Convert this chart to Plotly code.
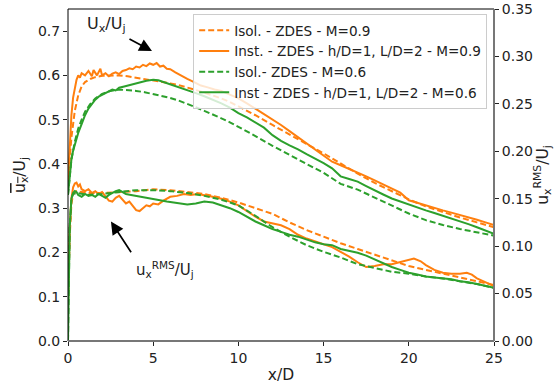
import plotly.graph_objects as go

ORANGE = "#ff7f0e"
GREEN = "#2ca02c"

# ---- mean axial velocity, u_x / U_j (left axis) ----
isol09_mean_x = [0, 0.2, 0.4, 0.6, 0.8, 1.0, 1.3, 1.6, 2, 2.5, 3, 3.5, 4, 4.5, 5, 5.5, 6, 6.5, 7, 7.5, 8,
                 8.5, 9, 9.5, 10, 11, 12, 13, 14, 15, 16, 17, 18, 19, 20, 21, 22, 23, 24, 25]
isol09_mean_y = [0.36, 0.46, 0.52, 0.555, 0.575, 0.585, 0.592, 0.596, 0.599, 0.60, 0.60, 0.598, 0.595, 0.592,
                 0.589, 0.586, 0.582, 0.578, 0.573, 0.567, 0.561, 0.555, 0.548, 0.54, 0.53, 0.51, 0.488, 0.466,
                 0.445, 0.424, 0.40, 0.378, 0.357, 0.338, 0.32, 0.304, 0.291, 0.279, 0.268, 0.257]

inst09_mean_x = [0, 0.1, 0.2, 0.3, 0.4, 0.5, 0.6, 0.7, 0.8, 1.0, 1.2, 1.4, 1.5, 1.7, 1.9, 2.0, 2.2, 2.4, 2.6,
                 2.8, 3.0, 3.2, 3.4, 3.6, 3.8, 4.0, 4.2, 4.4, 4.6, 4.8, 5.0, 5.2, 5.4, 5.6, 5.8, 6.0, 6.3, 6.6,
                 7.0, 7.4, 7.8, 8.2, 8.6, 9.0, 9.5, 10, 10.5, 11, 11.5, 12, 12.5, 13, 13.5, 14, 14.5, 15,
                 15.5, 16, 16.5, 17, 17.5, 18, 18.5, 19, 19.5, 20, 20.5, 21, 21.5, 22, 22.5, 23, 23.5, 24,
                 24.5, 25]
inst09_mean_y = [0.36, 0.45, 0.51, 0.55, 0.575, 0.59, 0.60, 0.595, 0.605, 0.60, 0.61, 0.598, 0.612, 0.60,
                 0.615, 0.60, 0.605, 0.598, 0.604, 0.607, 0.603, 0.61, 0.612, 0.616, 0.614, 0.62, 0.618,
                 0.624, 0.621, 0.627, 0.624, 0.628, 0.62, 0.622, 0.615, 0.614, 0.607, 0.60, 0.592, 0.585,
                 0.577, 0.573, 0.568, 0.565, 0.557, 0.548, 0.537, 0.525, 0.512, 0.50, 0.488, 0.474, 0.46,
                 0.446, 0.432, 0.418, 0.405, 0.397, 0.389, 0.381, 0.372, 0.363, 0.354, 0.344, 0.335, 0.318,
                 0.312, 0.306, 0.30, 0.295, 0.29, 0.285, 0.279, 0.274, 0.268, 0.262]

isol06_mean_x = [0, 0.2, 0.4, 0.6, 0.8, 1.0, 1.3, 1.6, 2, 2.5, 3, 3.5, 4, 4.5, 5, 5.5, 6, 6.5, 7, 7.5, 8,
                 8.5, 9, 9.5, 10, 11, 12, 13, 14, 15, 16, 17, 18, 19, 20, 21, 22, 23, 24, 25]
isol06_mean_y = [0.33, 0.41, 0.45, 0.48, 0.50, 0.518, 0.535, 0.548, 0.558, 0.565, 0.568, 0.567, 0.565, 0.562,
                 0.558, 0.554, 0.549, 0.543, 0.536, 0.528, 0.52, 0.512, 0.503, 0.494, 0.484, 0.463, 0.441,
                 0.42, 0.40, 0.38, 0.355, 0.342, 0.324, 0.306, 0.288, 0.273, 0.262, 0.253, 0.245, 0.238]

inst06_mean_x = [0, 0.1, 0.2, 0.3, 0.4, 0.5, 0.6, 0.8, 1.0, 1.2, 1.4, 1.6, 1.8, 2.0, 2.2, 2.4, 2.6, 2.8, 3.0,
                 3.3, 3.6, 4.0, 4.3, 4.6, 5.0, 5.3, 5.6, 6.0, 6.5, 7.0, 7.5, 8.0, 8.5, 9.0, 9.5, 10, 10.5,
                 11, 11.5, 12, 12.5, 13, 13.5, 14, 14.5, 15, 15.5, 16, 16.5, 17, 17.5, 18, 18.5, 19, 19.5,
                 20, 20.5, 21, 21.5, 22, 22.5, 23, 23.5, 24, 24.5, 25]
inst06_mean_y = [0.33, 0.38, 0.41, 0.43, 0.445, 0.46, 0.47, 0.49, 0.51, 0.525, 0.535, 0.545, 0.552, 0.556,
                 0.56, 0.563, 0.568, 0.566, 0.572, 0.575, 0.578, 0.582, 0.584, 0.588, 0.59, 0.589, 0.585,
                 0.58, 0.573, 0.566, 0.56, 0.553, 0.545, 0.537, 0.527, 0.515, 0.505, 0.494, 0.482, 0.465,
                 0.452, 0.442, 0.433, 0.422, 0.412, 0.402, 0.39, 0.372, 0.366, 0.36, 0.35, 0.34, 0.331,
                 0.322, 0.315, 0.308, 0.301, 0.295, 0.289, 0.283, 0.277, 0.271, 0.264, 0.257, 0.249, 0.242]

# ---- axial velocity fluctuations, u_x^RMS / U_j (right axis) ----
isol09_rms_x = [0, 0.1, 0.2, 0.3, 0.5, 0.8, 1.2, 2, 3, 4, 5, 6, 7, 8, 9, 10, 11, 12, 13, 14, 15, 16, 17,
                18, 19, 20, 21, 22, 23, 24, 25]
isol09_rms_y = [0.04, 0.11, 0.145, 0.155, 0.158, 0.157, 0.156, 0.156, 0.157, 0.158, 0.16, 0.159, 0.157,
                0.155, 0.151, 0.146, 0.14, 0.134, 0.125, 0.117, 0.11, 0.103, 0.097, 0.091, 0.085, 0.079,
                0.075, 0.071, 0.067, 0.063, 0.059]

inst09_rms_x = [0, 0.1, 0.2, 0.3, 0.4, 0.5, 0.6, 0.7, 0.8, 1.0, 1.2, 1.4, 1.6, 1.8, 2.0, 2.2, 2.4, 2.6,
                2.8, 3.0, 3.2, 3.4, 3.6, 3.8, 4.0, 4.2, 4.4, 4.6, 4.8, 5.0, 5.3, 5.6, 6.0, 6.4, 6.8, 7.2,
                7.6, 8.0, 8.5, 9.0, 9.5, 10, 10.5, 11, 11.5, 12, 12.5, 13, 13.5, 14, 14.5, 15, 15.5, 16,
                16.5, 17, 17.5, 18, 18.5, 19, 19.5, 20, 20.3, 20.7, 21, 21.5, 22, 22.5, 23, 23.4, 23.7,
                24, 24.5, 25]
inst09_rms_y = [0.045, 0.12, 0.15, 0.162, 0.166, 0.167, 0.163, 0.165, 0.16, 0.158, 0.16, 0.156, 0.158,
                0.155, 0.157, 0.152, 0.148, 0.147, 0.151, 0.153, 0.149, 0.145, 0.147, 0.142, 0.138, 0.137,
                0.14, 0.143, 0.142, 0.145, 0.144, 0.148, 0.152, 0.153, 0.155, 0.154, 0.155, 0.154, 0.152,
                0.15, 0.147, 0.143, 0.137, 0.131, 0.126, 0.124, 0.122, 0.118, 0.112, 0.108, 0.105, 0.102,
                0.099, 0.094, 0.089, 0.083, 0.078, 0.079, 0.081, 0.081, 0.083, 0.085, 0.087, 0.084, 0.08,
                0.075, 0.072, 0.071, 0.071, 0.072, 0.07, 0.066, 0.062, 0.058]

isol06_rms_x = [0, 0.05, 0.1, 0.2, 0.3, 0.5, 0.8, 1.2, 2, 3, 4, 5, 6, 7, 8, 9, 10, 11, 12, 13, 14, 15, 16,
                17, 18, 19, 20, 21, 22, 23, 24, 25]
isol06_rms_y = [0.0, 0.06, 0.12, 0.15, 0.155, 0.156, 0.155, 0.154, 0.155, 0.157, 0.159, 0.159, 0.158,
                0.156, 0.153, 0.149, 0.143, 0.132, 0.12, 0.11, 0.101, 0.094, 0.088, 0.081, 0.077, 0.073,
                0.071, 0.068, 0.066, 0.063, 0.06, 0.056]

inst06_rms_x = [0, 0.05, 0.1, 0.2, 0.3, 0.4, 0.5, 0.6, 0.8, 1.0, 1.2, 1.4, 1.6, 1.8, 2.0, 2.2, 2.4, 2.6,
                2.8, 3.0, 3.2, 3.4, 3.7, 4.0, 4.3, 4.6, 5.0, 5.4, 5.8, 6.2, 6.6, 7.0, 7.5, 8.0, 8.5, 9.0,
                9.5, 10, 10.5, 11, 11.5, 12, 12.5, 13, 13.5, 14, 14.5, 15, 15.5, 16, 16.5, 17, 17.5, 18,
                18.5, 19, 19.5, 20, 20.5, 21, 21.5, 22, 22.5, 23, 23.5, 24, 24.5, 25]
inst06_rms_y = [0.0, 0.06, 0.12, 0.15, 0.156, 0.158, 0.157, 0.154, 0.152, 0.155, 0.153, 0.154, 0.152,
                0.155, 0.153, 0.151, 0.154, 0.156, 0.158, 0.159, 0.157, 0.155, 0.154, 0.153, 0.152, 0.151,
                0.149, 0.148, 0.147, 0.146, 0.145, 0.144, 0.145, 0.147, 0.146, 0.143, 0.14, 0.136, 0.131,
                0.126, 0.122, 0.118, 0.115, 0.112, 0.11, 0.107, 0.104, 0.102, 0.101, 0.097, 0.095, 0.093,
                0.09, 0.086, 0.082, 0.078, 0.075, 0.072, 0.07, 0.068, 0.067, 0.066, 0.065, 0.063, 0.062,
                0.06, 0.058, 0.056]

legend_names = [
    "Isol. - ZDES - M=0.9",
    "Inst. - ZDES - h/D=1, L/D=2 - M=0.9",
    "Isol.- ZDES - M=0.6",
    "Inst - ZDES - h/D=1, L/D=2 - M=0.6",
]

x_ticks = [0, 5, 10, 15, 20, 25]
left_ticks = [0.0, 0.1, 0.2, 0.3, 0.4, 0.5, 0.6, 0.7]
right_ticks = [0.0, 0.05, 0.10, 0.15, 0.20, 0.25, 0.30, 0.35]

FONT = "DejaVu Sans"
INK = "#222222"
DASH = "6px,3px"
LW = 2

fig = go.Figure()

series = [
    (isol09_mean_x, isol09_mean_y, isol09_rms_x, isol09_rms_y, ORANGE, DASH, legend_names[0]),
    (inst09_mean_x, inst09_mean_y, inst09_rms_x, inst09_rms_y, ORANGE, "solid", legend_names[1]),
    (isol06_mean_x, isol06_mean_y, isol06_rms_x, isol06_rms_y, GREEN, DASH, legend_names[2]),
    (inst06_mean_x, inst06_mean_y, inst06_rms_x, inst06_rms_y, GREEN, "solid", legend_names[3]),
]

for mx, my, rx, ry, col, dash, name in series:
    fig.add_trace(go.Scatter(x=mx, y=my, mode="lines", name=name,
                             line=dict(color=col, width=LW, dash=dash), yaxis="y"))
for mx, my, rx, ry, col, dash, name in series:
    fig.add_trace(go.Scatter(x=rx, y=ry, mode="lines", name=name, showlegend=False,
                             line=dict(color=col, width=LW, dash=dash), yaxis="y2"))

# arrows pointing at each family of curves
fig.add_annotation(x=4.93, y=0.655, ax=3.52, ay=0.684, xref="x", yref="y", axref="x", ayref="y",
                   text="", showarrow=True, arrowhead=2, arrowsize=1.5, arrowwidth=1.7,
                   arrowcolor="black", standoff=0, startstandoff=0)
fig.add_annotation(x=2.52, y=0.27, ax=3.76, ay=0.197, xref="x", yref="y", axref="x", ayref="y",
                   text="", showarrow=True, arrowhead=2, arrowsize=1.5, arrowwidth=1.7,
                   arrowcolor="black", standoff=0, startstandoff=0)
fig.add_annotation(x=2.23, y=0.714, xref="x", yref="y", showarrow=False,
                   text="U<sub>x</sub>/U<sub>j</sub>", font=dict(family=FONT, size=16, color=INK))
fig.add_annotation(x=5.69, y=0.161, xref="x", yref="y", showarrow=False,
                   text="u<sub>x</sub><sup>RMS</sup>/U<sub>j</sub>",
                   font=dict(family=FONT, size=15, color=INK))

# frame: left/top in black, bottom/right in grey
fig.add_shape(type="line", xref="paper", yref="paper", x0=0, x1=0, y0=0, y1=1,
              line=dict(color="black", width=1))
fig.add_shape(type="line", xref="paper", yref="paper", x0=0, x1=1, y0=1, y1=1,
              line=dict(color="black", width=1))
fig.add_shape(type="line", xref="paper", yref="paper", x0=0, x1=1, y0=0, y1=0,
              line=dict(color="#777777", width=2))
fig.add_shape(type="line", xref="paper", yref="paper", x0=1, x1=1, y0=0, y1=1,
              line=dict(color="#777777", width=2))

tickfont = dict(family=FONT, size=14, color=INK)
titlefont = dict(family=FONT, size=15.5, color=INK)

fig.update_layout(
    width=554, height=390,
    margin=dict(l=68, r=60, t=9, b=49),
    paper_bgcolor="white", plot_bgcolor="white",
    font=dict(family=FONT, size=14, color=INK),
    xaxis=dict(range=[0, 25], tickvals=x_ticks, ticks="outside", ticklen=4, tickcolor=INK,
               showgrid=False, zeroline=False, showline=False, tickfont=tickfont, automargin=False,
               title=dict(text="x/D", font=titlefont, standoff=4)),
    yaxis=dict(range=[0, 0.75], tickvals=left_ticks, tickformat=".1f", ticks="outside", ticklen=4,
               tickcolor=INK, showgrid=False, zeroline=False, showline=False, tickfont=tickfont,
               automargin=False,
               title=dict(text='<span style="text-decoration:overline">u<sub>x</sub></span>/U<sub>j</sub>',
                          font=titlefont, standoff=8)),
    yaxis2=dict(range=[0, 0.35], tickvals=right_ticks, tickformat=".2f", ticks="outside", ticklen=4,
                tickcolor=INK, showgrid=False, zeroline=False, showline=False, tickfont=tickfont,
                overlaying="y", side="right", automargin=False,
                title=dict(text="u<sub>x</sub><sup>RMS</sup>/U<sub>j</sub>",
                           font=titlefont, standoff=6)),
    legend=dict(x=0.984, y=0.985, xanchor="right", yanchor="top",
                bgcolor="rgba(255,255,255,0.8)", bordercolor="#cccccc", borderwidth=1,
                font=dict(family=FONT, size=13.6, color=INK), tracegroupgap=0,
                itemwidth=30),
    showlegend=True,
)

fig.write_html("out.html")
